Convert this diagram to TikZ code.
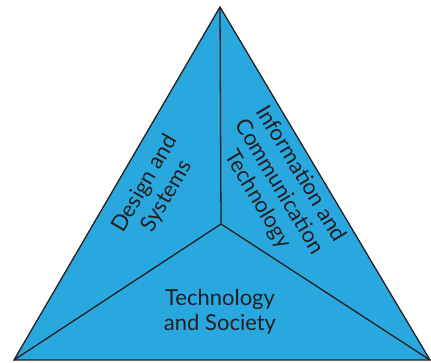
\documentclass[tikz,border=0pt]{standalone}
\usepackage{fontspec}
\setsansfont{Lato}
\usepackage{xcolor}
\usepackage{tikz}
\usetikzlibrary{positioning}
\definecolor{areablue}{HTML}{29A8E0}
\definecolor{inkgrey}{HTML}{231F20}

\begin{document}
\begin{tikzpicture}[x=1pt, y=-1pt, thick]
    \tikzstyle{sector label}=[text=inkgrey, align=center, inner sep=0pt, font=\sffamily\fontsize{22}{25}\selectfont]
    \tikzstyle{divider}=[draw=inkgrey, line width=1.3pt]

    \useasboundingbox (0,0) rectangle (431,362);

    \coordinate (apex) at (220,7);
    \coordinate (leftcorner) at (14,360);
    \coordinate (rightcorner) at (430,360);
    \coordinate (hub) at (221,224);

    \filldraw[areablue, divider, fill=areablue] (apex) -- (leftcorner) -- (rightcorner) -- cycle;
    \draw[divider] (hub) -- (apex);
    \draw[divider] (hub) -- (leftcorner);
    \draw[divider] (hub) -- (rightcorner);

    \node[sector label, rotate=59.7] (design) at (156,190) {Design and\\Systems};
    \node[sector label, rotate=-59.1] (ict) at (279,187) {Information and\\Communication\\Technology};
    \node[sector label] (society) at (220,312) {Technology\\and Society};

\end{tikzpicture}
\end{document}
